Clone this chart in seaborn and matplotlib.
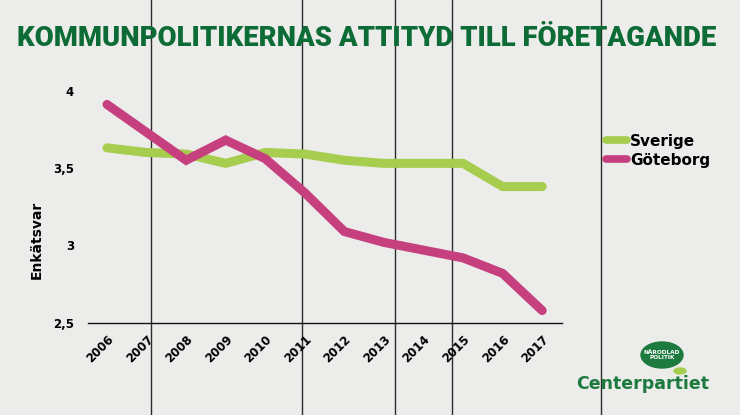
import matplotlib
matplotlib.use("Agg")
import matplotlib.pyplot as plt
from matplotlib.lines import Line2D
from matplotlib.patches import Ellipse
import pandas as pd
import seaborn as sns

# data
years = [2006, 2007, 2008, 2009, 2010, 2011, 2012, 2013, 2014, 2015, 2016, 2017]
sverige = [3.63, 3.60, 3.59, 3.53, 3.60, 3.59, 3.55, 3.53, 3.53, 3.53, 3.38, 3.38]
goteborg = [3.91, 3.73, 3.55, 3.68, 3.56, 3.34, 3.09, 3.02, 2.97, 2.92, 2.82, 2.58]
series_names = ["Sverige", "Göteborg"]
series_colors = ["#a6cd4e", "#c63f7f"]
yticks = [2.5, 3, 3.5, 4]
ytick_labels = ["2,5", "3", "3,5", "4"]

df = pd.DataFrame({
    "year": years * 2,
    "value": sverige + goteborg,
    "serie": [series_names[0]] * len(years) + [series_names[1]] * len(years),
})

sns.set_theme(style="white")
plt.rcParams["font.family"] = ["DejaVu Sans"]
plt.rcParams["text.color"] = "black"
plt.rcParams["xtick.color"] = "black"
plt.rcParams["ytick.color"] = "black"

bg = "#ececea"
fig = plt.figure(figsize=(7.4, 4.15), dpi=100, facecolor=bg)

# wooden plank edges in the background
for xp in [151, 302, 395, 452, 601]:
    fig.add_artist(Line2D([xp / 740, xp / 740], [0, 1], transform=fig.transFigure,
                          color="#2b2b2b", lw=1.0, zorder=0))

ax = fig.add_axes([88 / 740, 92 / 415, 474 / 740, 232.5 / 415])
ax.set_facecolor("none")

palette = dict(zip(series_names, series_colors))
sns.lineplot(data=df, x="year", y="value", hue="serie", palette=palette,
             linewidth=6.5, ax=ax, legend=False,
             solid_capstyle="round", solid_joinstyle="miter", clip_on=False)

ax.set_xlim(2005.52, 2017.5)
ax.set_ylim(2.5, 4.0)
ax.set_yticks(yticks)
ax.set_yticklabels(ytick_labels, fontsize=8.5, fontweight="bold")
ax.set_xticks(years)
ax.set_xticklabels([str(y) for y in years], fontsize=8.5, fontweight="bold",
                   rotation=45, ha="right", rotation_mode="anchor")
ax.tick_params(axis="x", length=0, pad=7)
ax.tick_params(axis="y", length=0, pad=10)
ax.set_xlabel("")
ax.set_ylabel("")
for side in ["top", "right", "left"]:
    ax.spines[side].set_visible(False)
ax.spines["bottom"].set_color("#111111")
ax.spines["bottom"].set_linewidth(1.0)
ax.grid(False)

fig.text(37 / 740, 1 - 240 / 415, "Enkätsvar", rotation=90, fontsize=10,
         fontweight="bold", ha="center", va="center")

# title
fig.text(367 / 740, 1 - 39 / 415, "KOMMUNPOLITIKERNAS ATTITYD TILL FÖRETAGANDE",
         family=["Roboto", "DejaVu Sans"], fontweight="black",
         fontsize=19.8, color="#0d6b36", ha="center", va="center")

# legend
handles = [Line2D([0], [0], color=c, lw=5.5) for c in series_colors]
fig.legend(handles, series_names, loc="upper left",
           bbox_to_anchor=(592 / 740, 1 - 120 / 415), frameon=False,
           handlelength=1.4, handletextpad=0.2, labelspacing=0.25,
           prop={"weight": "bold", "size": 11})

# party logo
fig.add_artist(Ellipse((662 / 740, 1 - 355 / 415), 42 / 740, 26 / 415,
                       transform=fig.transFigure, color="#1d7a3e", zorder=2))
fig.add_artist(Ellipse((680 / 740, 1 - 371 / 415), 12 / 740, 6 / 415,
                       transform=fig.transFigure, color="#a6cd4e", zorder=2))
fig.text(662 / 740, 1 - 355 / 415, "NÄRODLAD\nPOLITIK", fontsize=4.2,
         fontweight="bold", color="white", ha="center", va="center",
         linespacing=1.1, zorder=3)
fig.text(643 / 740, 1 - 384 / 415, "Centerpartiet", fontsize=12.5,
         fontweight="bold", color="#1d7a3e", ha="center", va="center")

fig.savefig("out.png", dpi=100, facecolor=bg)
